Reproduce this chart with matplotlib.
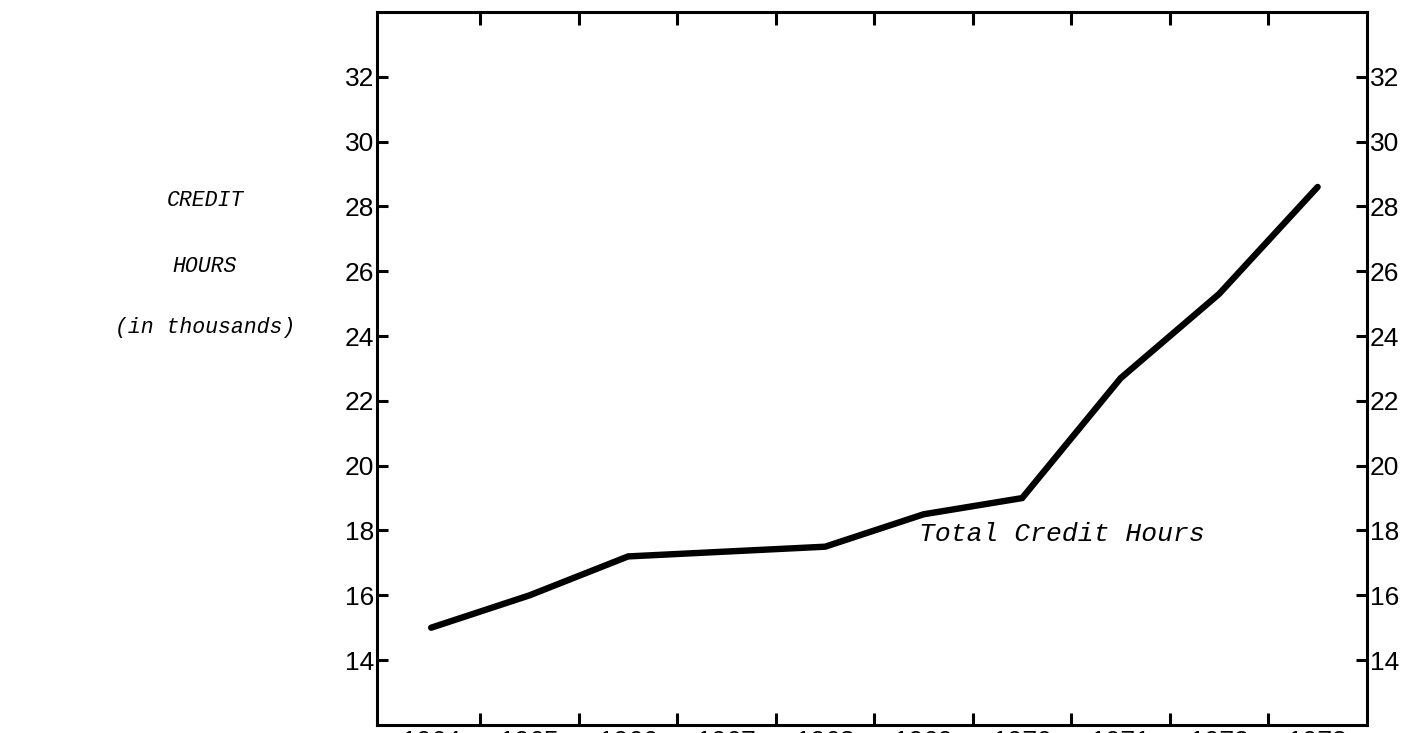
import numpy as np
import matplotlib.pyplot as plt
from matplotlib.ticker import FixedLocator

# data (credit hours, in thousands)
years = [1964, 1965, 1966, 1967, 1968, 1969, 1970, 1971, 1972, 1973]
credit_hours = [15.0, 16.0, 17.2, 17.35, 17.5, 18.5, 19.0, 22.7, 25.3, 28.6]
y_ticks = [14, 16, 18, 20, 22, 24, 26, 28, 30, 32]
year_labels = [str(y) for y in years]

mono = 'Liberation Mono'
sans = 'Liberation Sans'

fig = plt.figure(figsize=(14.15, 7.33), dpi=100)
ax = fig.add_axes([0.2664, 0.011, 0.6996, 0.9727])

ax.plot(years, credit_hours, color='black', linewidth=4.6, solid_capstyle='round',
        solid_joinstyle='miter')

ax.set_xlim(1963.45, 1973.5)
ax.set_ylim(12, 34)

for s in ax.spines.values():
    s.set_linewidth(2.2)

# major ticks between the years, labels at the year centres
ax.xaxis.set_major_locator(FixedLocator(np.array(years[:-1]) + 0.5))
ax.xaxis.set_minor_locator(FixedLocator(years))
ax.set_xticklabels([], minor=False)
ax.set_xticklabels(year_labels, minor=True, fontsize=19, family=sans)
ax.tick_params(axis='x', which='major', direction='in', length=9, width=2.2,
               top=True, bottom=True)
ax.tick_params(axis='x', which='minor', length=0, pad=4)

ax.set_yticks(y_ticks)
ax.set_yticklabels([str(v) for v in y_ticks], fontsize=19, family=sans)
ax.tick_params(axis='y', direction='in', length=8, width=2.2, left=True,
               right=True, labelright=True, pad=2)

# left-hand title, typewriter italic
for txt, yy in [('CREDIT', 200), ('HOURS', 266), ('(in thousands)', 328)]:
    fig.text(205 / 1415, 1 - yy / 733, txt, ha='center', va='center',
             family=mono, style='italic', fontsize=15.5)

ax.text(1970.4, 17.9, 'Total Credit Hours', ha='center', va='center',
        family=mono, style='italic', fontsize=19)

fig.savefig('out.png', dpi=100, facecolor='white')
